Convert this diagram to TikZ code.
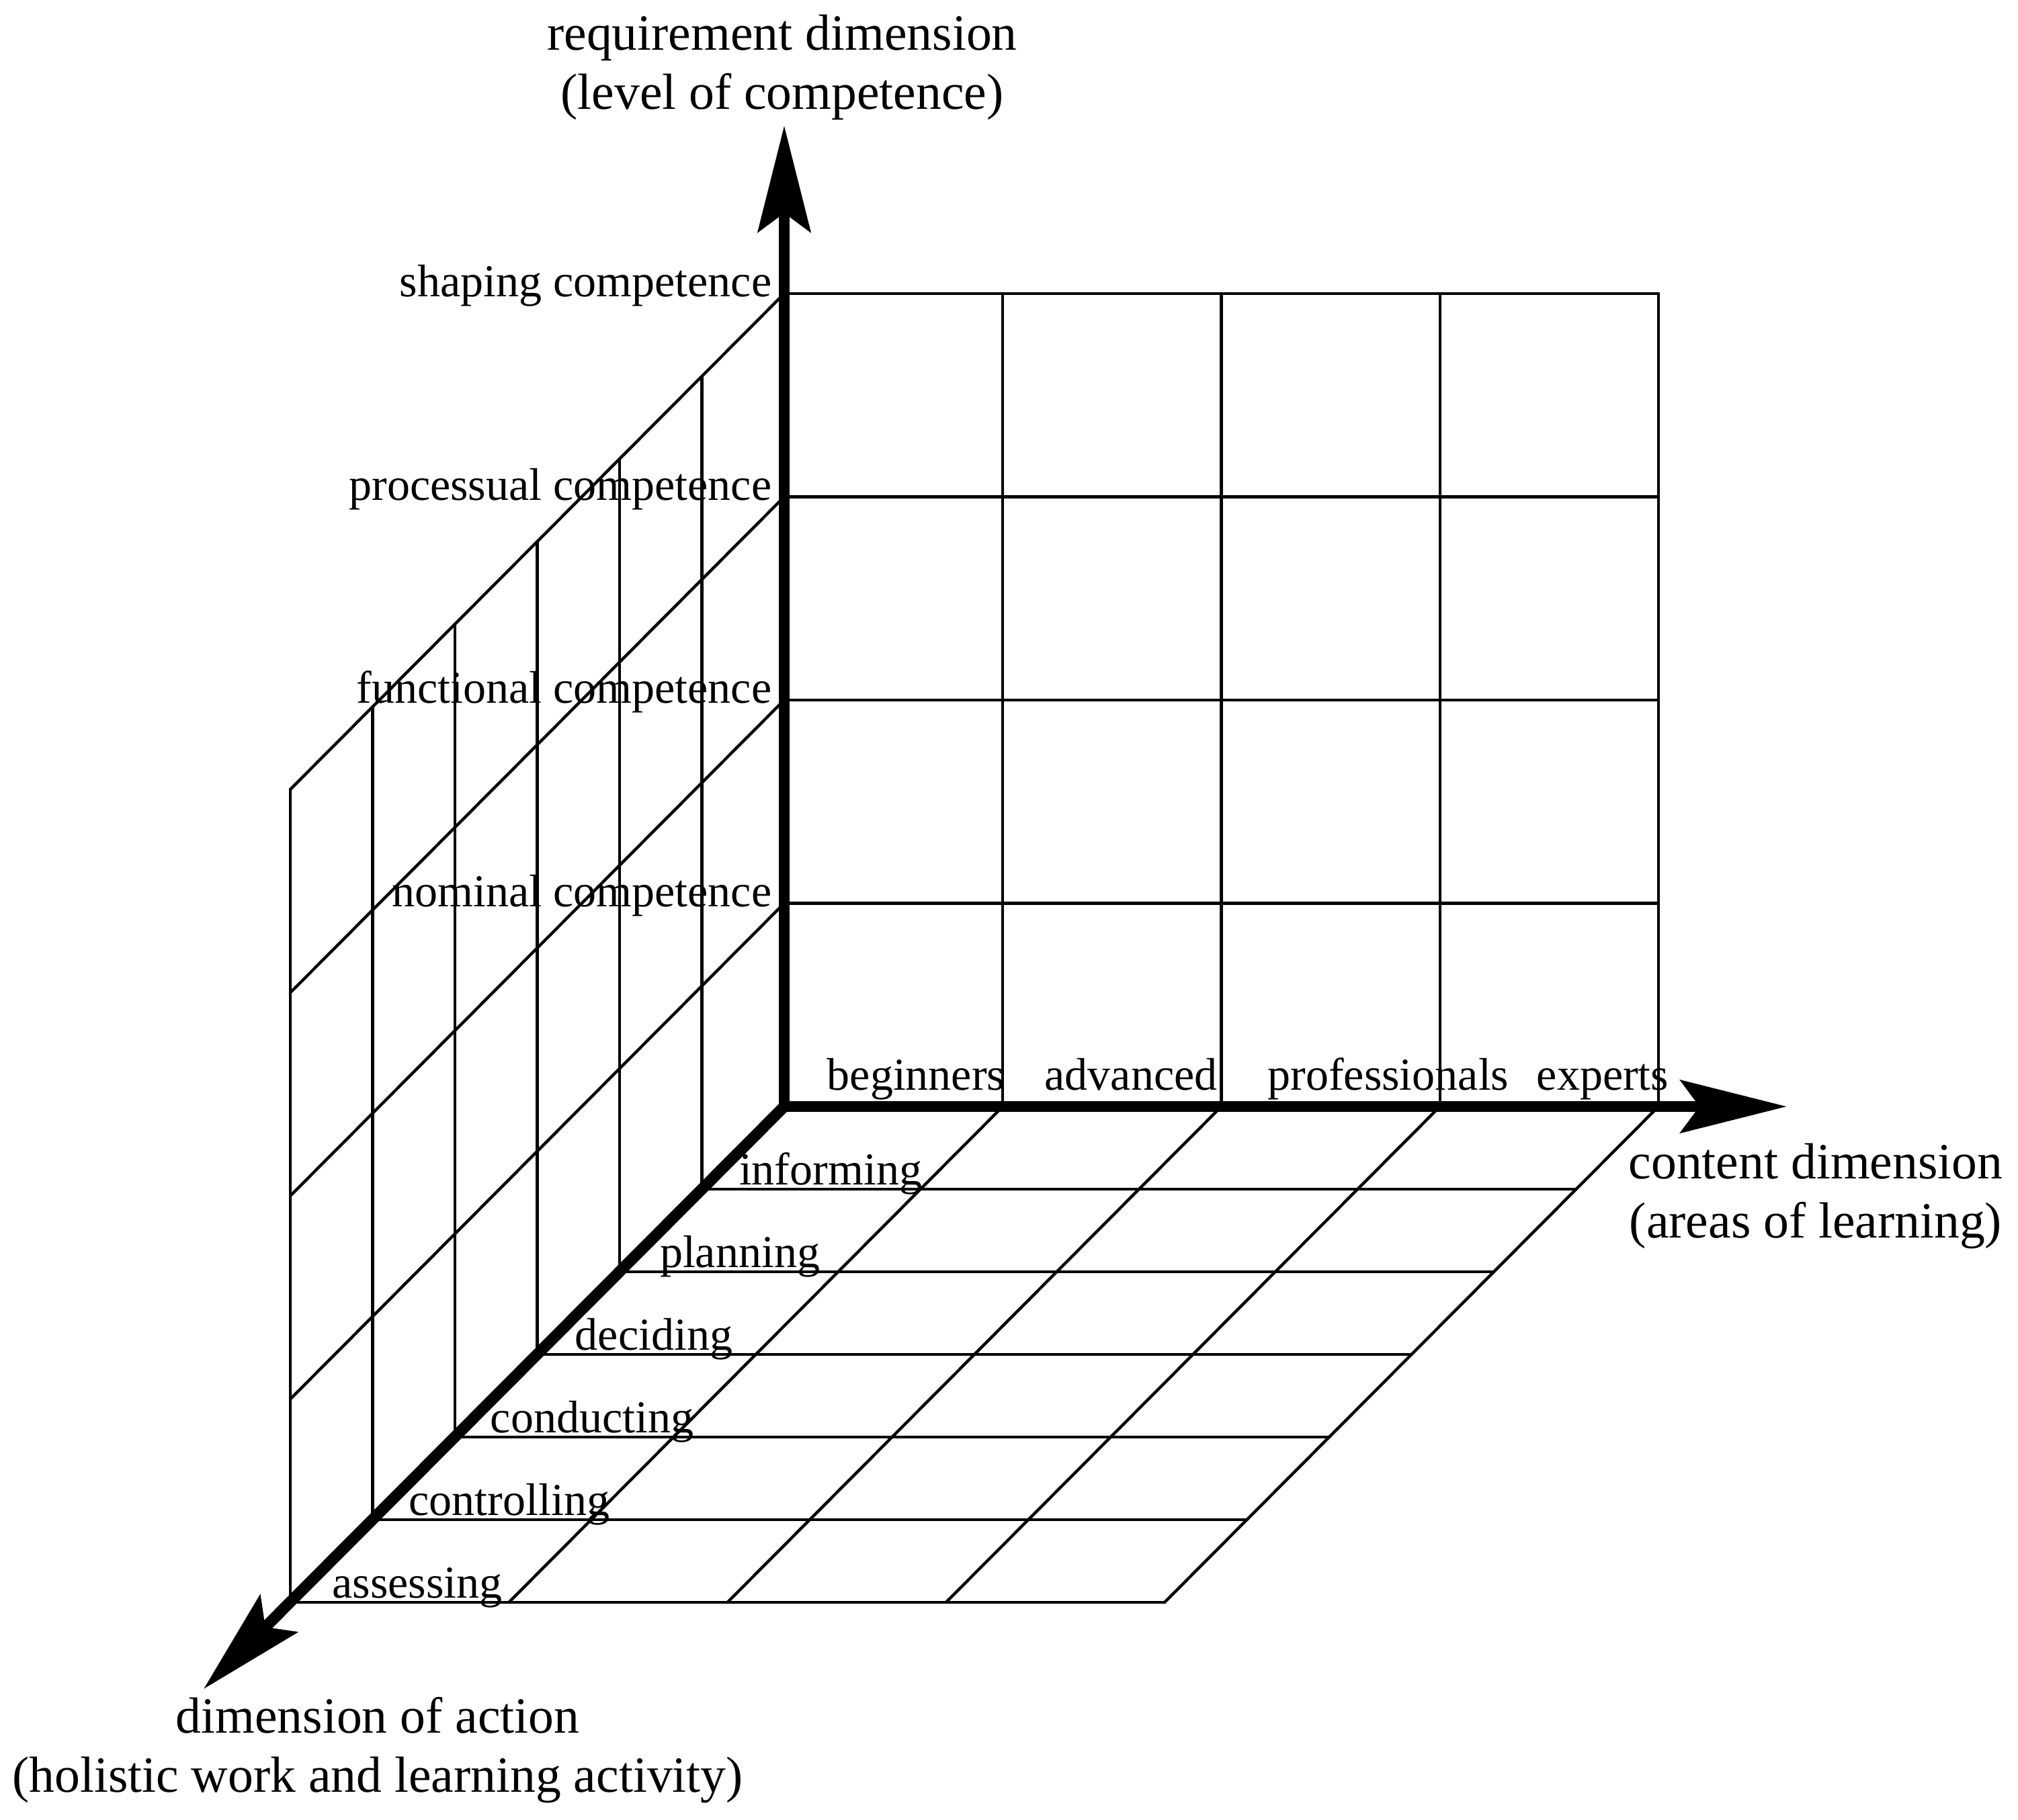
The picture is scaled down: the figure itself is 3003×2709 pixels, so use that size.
\documentclass[tikz,border=0pt]{standalone}
\usepackage{fontspec}
\setmainfont{Liberation Serif}
\usetikzlibrary{arrows.meta,calc}
\tikzset{axistip/.tip={Stealth[length=39.5pt,width=19.5pt,inset=7pt]}}
\begin{document}
\begin{tikzpicture}[x=0.25pt,y=-0.25pt,
  gridline/.style={line width=1.1pt, line cap=round},
  axisline/.style={line width=4.2pt, line join=miter},
  axlabel/.style={font=\fontsize{18.9}{22}\selectfont, inner sep=0pt, align=center, anchor=base},
  lbl/.style={font=\fontsize{17}{20}\selectfont, inner sep=0pt, anchor=base}]
\useasboundingbox (0,0) rectangle (3003,2709);
% key points
\coordinate (O) at (1167,1647);
\coordinate (R) at (2468,1647);
\coordinate (T) at (1167,437);
\coordinate (ztip) at (1167,187);
\coordinate (xtip) at (2659,1647);
\coordinate (dtip) at (303,2514);
% back wall
\foreach \y in {437,739.5,1042,1344.5}
  \draw[gridline] (1167,\y) -- (2468,\y);
\foreach \x in {1492.25,1817.5,2142.75,2468}
  \draw[gridline] (\x,437) -- (\x,1647);
% left wall diagonals
\foreach \y in {437,739.5,1042,1344.5}
  \draw[gridline] (1167,\y) -- ++(-735,738);
% floor columns
\foreach \x in {1492.25,1817.5,2142.75,2468}
  \draw[gridline] (\x,1647) -- ++(-735,738);
% floor rows and left wall verticals
\foreach \k in {1,...,6} {
  \draw[gridline] ($(O)+\k*(-122.5,123)$) -- ($(R)+\k*(-122.5,123)$);
  \draw[gridline] ($(O)+\k*(-122.5,123)$) -- ($(T)+\k*(-122.5,123)$);
}
% axes
\draw[axisline, axistip-axistip] (ztip) -- (O) -- (xtip);
\draw[axisline, -axistip] (O) -- (dtip);
% axis labels (anchor at baseline of last line)
\node[axlabel] (req) at (1164,163) {requirement dimension\\(level of competence)};
\node[axlabel] (cont) at (2702,1842) {content dimension\\(areas of learning)};
\node[axlabel] (act) at (562,2667) {dimension of action\\(holistic work and learning activity)};
% competence levels
\node[lbl, anchor=base east] (shp) at (1149,441) {shaping competence};
\node[lbl, anchor=base east] (prc) at (1149,744) {processual competence};
\node[lbl, anchor=base east] (fnc) at (1149,1046) {functional competence};
\node[lbl, anchor=base east] (nom) at (1149,1349) {nominal competence};
% content columns
\node[lbl] (beg) at (1363,1622) {beginners};
\node[lbl] (adv) at (1683,1622) {advanced};
\node[lbl] (pro) at (2066,1622) {professionals};
\node[lbl] (exp) at (2385,1622) {experts};
% action rows
\node[lbl] (inf) at (1236,1763) {informing};
\node[lbl] (pla) at (1101,1886) {planning};
\node[lbl] (dec) at (973,2009) {deciding};
\node[lbl] (con) at (881,2132) {conducting};
\node[lbl] (ctl) at (758,2255) {controlling};
\node[lbl] (ass) at (621,2378) {assessing};
\end{tikzpicture}
\end{document}
